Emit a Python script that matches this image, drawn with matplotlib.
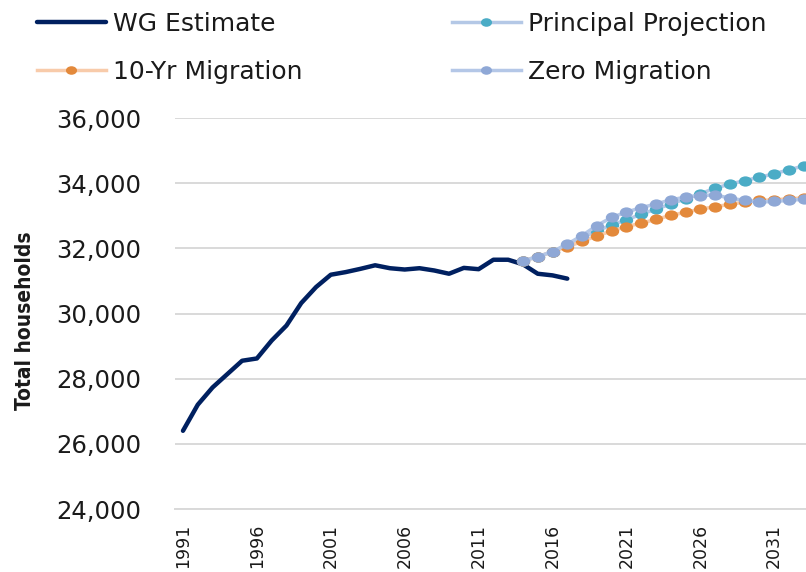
import matplotlib
matplotlib.use("Agg")
import matplotlib.pyplot as plt
from matplotlib.ticker import FuncFormatter
from matplotlib.path import Path
from matplotlib.transforms import Affine2D

# ---- data ----
wg_years = list(range(1991, 2018))
wg_values = [26400, 27200, 27730, 28140, 28550, 28620, 29170, 29630, 30320, 30810,
             31190, 31270, 31370, 31480, 31390, 31350, 31390, 31320, 31220, 31400,
             31360, 31650, 31650, 31510, 31220, 31170, 31070]

proj_years = list(range(2014, 2034))
principal = [31620, 31740, 31900, 32100, 32330, 32530, 32720, 32870, 33050, 33200,
             33360, 33520, 33670, 33850, 33970, 34080, 34180, 34290, 34410, 34530]
ten_yr = [31620, 31740, 31900, 32050, 32210, 32380, 32530, 32670, 32770, 32890,
          33010, 33110, 33200, 33280, 33350, 33420, 33470, 33490, 33520, 33550]
zero_mig = [31620, 31740, 31900, 32130, 32390, 32700, 32950, 33110, 33250, 33360,
            33490, 33570, 33620, 33640, 33540, 33470, 33420, 33440, 33470, 33510]

xtick_years = list(range(1991, 2032, 5))
ytick_values = list(range(24000, 36001, 2000))

labels = ["WG Estimate", "Principal Projection", "10-Yr Migration", "Zero Migration"]

# ---- figure ----
W, H = 806, 572
fig = plt.figure(figsize=(W / 100, H / 100), dpi=100)
ax = fig.add_axes([175 / W, 63 / H, 631 / W, (509 - 118) / H])

# slightly wide elliptical marker (as in the reference)
ell = Path.unit_circle().transformed(Affine2D().scale(1.3, 1.0))

l_wg, = ax.plot(wg_years, wg_values, color="#002060", lw=3.2, solid_capstyle="round",
                solid_joinstyle="round", zorder=3, label=labels[0])
mk = 9.6
l_pr, = ax.plot(proj_years, principal, color="#B4C8E6", lw=2.5, marker=ell, ms=mk,
                mfc="#4BACC6", mec="#4BACC6", mew=0, zorder=4, label=labels[1])
l_10, = ax.plot(proj_years, ten_yr, color="#F8CBAA", lw=2.5, marker=ell, ms=mk,
                mfc="#E3893B", mec="#E3893B", mew=0, zorder=5, label=labels[2])
l_zm, = ax.plot(proj_years, zero_mig, color="#B4C7E7", lw=2.5, marker=ell, ms=mk,
                mfc="#8FA8D6", mec="#8FA8D6", mew=0, zorder=6, label=labels[3])

ax.set_xlim(1990.46, 2033.15)
ax.set_ylim(24000, 36000)
ax.set_yticks(ytick_values)
ax.yaxis.set_major_formatter(FuncFormatter(lambda v, p: f"{int(v):,}"))
ax.set_xticks(xtick_years)
ax.set_xticklabels([str(y) for y in xtick_years], rotation=90)

ax.grid(axis="y", color="#D9D9D9", lw=1.4, zorder=0)
ax.set_axisbelow(True)
for s in ["top", "right", "left"]:
    ax.spines[s].set_visible(False)
ax.spines["bottom"].set_color("#D9D9D9")
ax.spines["bottom"].set_linewidth(1.4)
ax.tick_params(axis="both", length=0)
ax.tick_params(axis="y", labelsize=17.5, pad=24, labelcolor="#1a1a1a")
ax.tick_params(axis="x", labelsize=12.5, pad=10.5, labelcolor="#1a1a1a")
for t in ax.get_xticklabels():
    t.set_va("top")

fig.text(25 / W, 1 - 321 / H, "Total households", rotation=90, fontsize=15,
         fontweight="bold", fontstretch="condensed", family="DejaVu Sans",
         ha="center", va="center", color="#1a1a1a")

legkw = dict(frameon=False, fontsize=18, handlelength=2.75, handletextpad=0.3,
             labelspacing=0.95, numpoints=1, borderpad=0, borderaxespad=0,
             loc="upper left", labelcolor="#1a1a1a")
leg1 = fig.legend([l_wg, l_10], [labels[0], labels[2]],
                  bbox_to_anchor=(37 / W, 1 - 12 / H), **legkw)
leg2 = fig.legend([l_pr, l_zm], [labels[1], labels[3]],
                  bbox_to_anchor=(452 / W, 1 - 12 / H), **legkw)
for lg in (leg1, leg2):
    for h in lg.legend_handles:
        h.set_markersize(8)

fig.savefig("out.png", dpi=100)
